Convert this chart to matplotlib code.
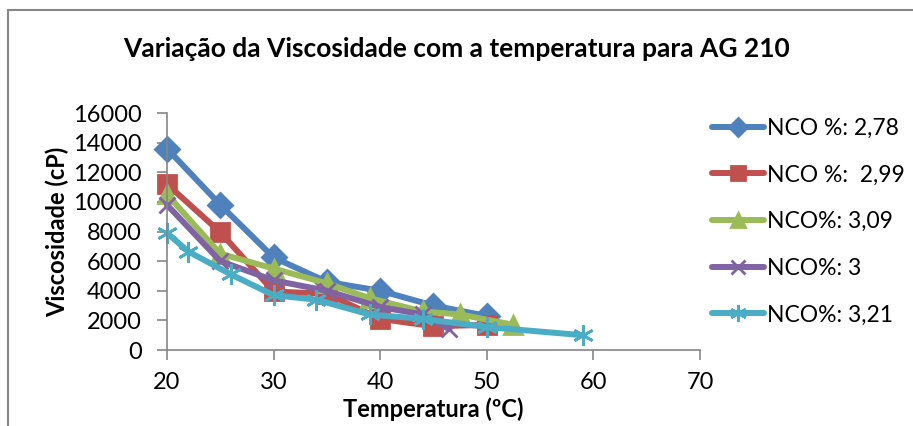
import matplotlib.pyplot as plt
from matplotlib.patches import Rectangle

plt.rcParams['font.family'] = ['Lato', 'DejaVu Sans']

x_278 = [20, 25, 30, 35, 40, 45, 50]
y_278 = [13600, 9800, 6250, 4600, 4000, 3000, 2300]
x_299 = [20, 25, 30, 35, 40, 45, 50]
y_299 = [11200, 7950, 3950, 3800, 2100, 1600, 1700]
x_309 = [20, 25, 30, 35, 39, 44, 47.5, 52.5]
y_309 = [10500, 6500, 5500, 4500, 3500, 2600, 2400, 1700]
x_300 = [20, 25, 30, 35, 40, 44, 46.5]
y_300 = [9800, 6000, 4700, 4000, 2900, 2400, 1400]
x_321 = [20, 22, 26, 30, 34, 39, 44, 50, 59]
y_321 = [7900, 6650, 5100, 3700, 3400, 2400, 2100, 1550, 1000]

labels = ['NCO %: 2,78', 'NCO %:  2,99', 'NCO%: 3,09', 'NCO%: 3', 'NCO%: 3,21']
colors = ['#4F81BD', '#C0504D', '#9BBB59', '#8064A2', '#4BACC6']

fig = plt.figure(figsize=(9.13, 4.26), dpi=100)
ax = fig.add_axes([0.1829, 0.1784, 0.5838, 0.5563])

series = [(x_278, y_278, 'D', 12), (x_299, y_299, 's', 13), (x_309, y_309, '^', 13),
          (x_300, y_300, 'x', 12), (x_321, y_321, (6, 2, 0), 15)]
for (xs, ys, m, ms), lab, c in zip(series, labels, colors):
    ax.plot(xs, ys, color=c, lw=4.3, marker=m, markersize=ms, mew=2,
            mfc=c, mec=c, label=lab, solid_capstyle='round', clip_on=False)

ax.set_xlim(20, 70)
ax.set_ylim(0, 16000)
ax.set_xticks(range(20, 71, 10))
ax.set_yticks(range(0, 16001, 2000))
for s in ['top', 'right']:
    ax.spines[s].set_visible(False)
for s in ['left', 'bottom']:
    ax.spines[s].set_color('#868686')
    ax.spines[s].set_linewidth(1.2)
ax.tick_params(colors='#868686', labelcolor='black', labelsize=17, length=7, width=1.2)
ax.tick_params(axis='x', pad=9)
ax.tick_params(axis='y', pad=11)

ax.set_xlabel('Temperatura (ºC)', fontsize=17, fontweight='bold', labelpad=3)
ax.set_ylabel('Viscosidade (cP)', fontsize=17, fontweight='bold', labelpad=3)
fig.suptitle('Variação da Viscosidade com a temperatura para AG 210',
             fontsize=19, fontweight='bold', x=0.5, y=0.912)

handles, _ = ax.get_legend_handles_labels()
fig.legend(handles, labels, loc='upper left', bbox_to_anchor=(0.757, 0.772), frameon=False,
           fontsize=16.5, handlelength=2.3, handletextpad=0.1, labelspacing=1.12,
           markerscale=0.8)

fig.patches.append(Rectangle((0.009, -0.05), 1.2, 1.026, transform=fig.transFigure,
                             fill=False, edgecolor='#868686', lw=1.5))

fig.savefig('out.png', dpi=100)
